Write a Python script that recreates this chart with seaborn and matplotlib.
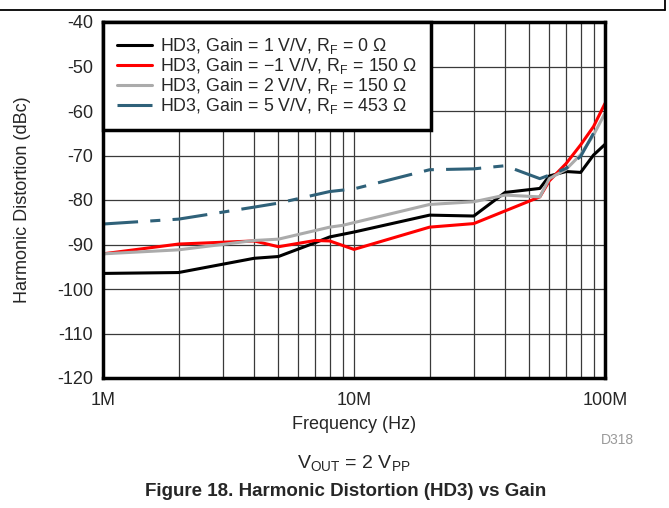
import seaborn as sns
import matplotlib.pyplot as plt
import matplotlib.ticker as mticker
import pandas as pd

# frequencies in MHz, values in dBc
freq_g1 = [1, 2, 4, 5, 7, 8, 10, 20, 30, 40, 55, 60, 70, 80, 90, 100]
hd3_g1 = [-96.5, -96.3, -93.1, -92.7, -89.6, -88.3, -87.2, -83.4, -83.6, -78.3, -77.4, -74.6, -73.6, -73.8, -69.9, -67.5]

freq_gm1 = [1, 2, 4, 5, 7, 8, 10, 20, 30, 55, 60, 70, 80, 90, 100]
hd3_gm1 = [-92.1, -89.9, -89.2, -90.5, -89.1, -89.2, -91.1, -86.1, -85.3, -79.3, -75.7, -71.8, -67.6, -63.5, -58.3]

freq_g2 = [1, 2, 4, 5, 8, 9, 20, 30, 40, 55, 60, 70, 80, 90, 100]
hd3_g2 = [-92.1, -91.2, -89.1, -88.8, -86.1, -85.7, -81.0, -80.4, -78.9, -79.3, -75.2, -73.1, -69.8, -65.4, -60.5]

freq_g5 = [1, 2, 4, 5, 8, 10, 20, 30, 40, 55, 60, 70, 80, 90]
hd3_g5 = [-85.4, -84.3, -81.6, -80.7, -78.1, -77.5, -73.2, -73.0, -72.3, -75.2, -74.4, -72.9, -70.2, -65.0]

labels = [
    r"HD3, Gain = 1 V/V, R$_\mathrm{F}$ = 0 Ω",
    r"HD3, Gain = −1 V/V, R$_\mathrm{F}$ = 150 Ω",
    r"HD3, Gain = 2 V/V, R$_\mathrm{F}$ = 150 Ω",
    r"HD3, Gain = 5 V/V, R$_\mathrm{F}$ = 453 Ω",
]
colors = ["#000000", "#FF0000", "#ABABAB", "#2F6179"]

frames = []
for lab, f, v in zip(labels, [freq_g1, freq_gm1, freq_g2, freq_g5],
                     [hd3_g1, hd3_gm1, hd3_g2, hd3_g5]):
    frames.append(pd.DataFrame({"freq": [x * 1e6 for x in f], "hd3": v, "series": lab}))
df = pd.concat(frames, ignore_index=True)

sns.set_style("white")
plt.rcParams["font.family"] = ["Liberation Sans", "DejaVu Sans"]
plt.rcParams["mathtext.fontset"] = "custom"
plt.rcParams["mathtext.rm"] = "Liberation Sans"
plt.rcParams["mathtext.it"] = "Liberation Sans:italic"
plt.rcParams["axes.unicode_minus"] = False

fig = plt.figure(figsize=(6.69, 5.08), dpi=100)
ax = fig.add_axes([103 / 669, 1 - 378 / 508, 502 / 669, 356 / 508])

sns.lineplot(data=df, x="freq", y="hd3", hue="series", style="series",
             hue_order=labels, style_order=labels,
             palette=dict(zip(labels, colors)),
             dashes={labels[0]: "", labels[1]: "", labels[2]: "", labels[3]: (11.5, 4, 3.3, 4)},
             linewidth=2.2, legend=False, ax=ax)

ax.set_xscale("log")
ax.set_xlim(1e6, 1e8)
ax.set_ylim(-120, -40)
ax.set_yticks(range(-120, -39, 10))
ax.set_yticklabels([str(v) for v in range(-120, -39, 10)])
ax.xaxis.set_major_locator(mticker.FixedLocator([1e6, 1e7, 1e8]))
ax.xaxis.set_major_formatter(mticker.FixedFormatter(["1M", "10M", "100M"]))
ax.xaxis.set_minor_locator(mticker.LogLocator(base=10, subs=range(2, 10)))
ax.xaxis.set_minor_formatter(mticker.NullFormatter())
ax.grid(True, which="both", color="#3a3a3a", linewidth=0.9)
ax.tick_params(which="both", length=0, labelsize=13)
ax.tick_params(axis="x", pad=10)
ax.tick_params(axis="y", pad=7)
for sp in ax.spines.values():
    sp.set_linewidth(2.5)
    sp.set_color("black")

ax.set_xlabel("Frequency (Hz)", fontsize=13, labelpad=5)
ax.set_ylabel("Harmonic Distortion (dBc)", fontsize=13, labelpad=19)

leg = ax.legend(ax.lines[:4], labels, loc="upper left", borderaxespad=0,
                fontsize=12.8, frameon=True, fancybox=False, framealpha=1,
                handlelength=1.95, handletextpad=0.45, labelspacing=0.0,
                borderpad=0.8)
leg.get_frame().set_edgecolor("black")
leg.get_frame().set_linewidth(2.5)

fig.text(617 / 669, 1 - 440 / 508, "D318", fontsize=10, color="#9a9a9a", ha="center", va="center")
fig.text(354 / 669, 1 - 463 / 508, r"V$_\mathrm{OUT}$ = 2 V$_\mathrm{PP}$", fontsize=14,
         ha="center", va="center")
fig.text(346 / 669, 1 - 492 / 508, "Figure 18. Harmonic Distortion (HD3) vs Gain", fontsize=13.5,
         fontweight="bold", ha="center", va="center")

# frame lines of the surrounding layout
fig.add_artist(plt.Line2D([0, 665 / 669], [1 - 10 / 508, 1 - 10 / 508], color="black", lw=1.3))
fig.add_artist(plt.Line2D([665 / 669, 665 / 669], [1 - 10 / 508, 1], color="black", lw=1.3))

fig.savefig("out.png", dpi=100)
